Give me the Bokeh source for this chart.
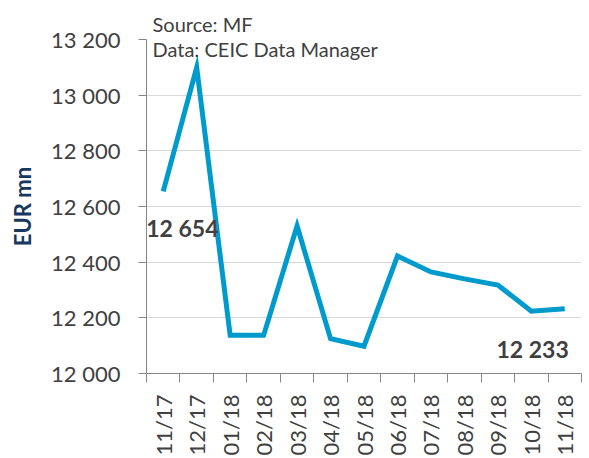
from bokeh.plotting import figure
from bokeh.models import FixedTicker, Range1d, Label, ColumnDataSource, Title
from bokeh.embed import file_html
from bokeh.resources import INLINE
import math

# ---- data ----
categories = ["11/17", "12/17", "01/18", "02/18", "03/18", "04/18", "05/18",
              "06/18", "07/18", "08/18", "09/18", "10/18", "11/18"]
values = [12654, 13100, 12137, 12137, 12530, 12125, 12098,
          12422, 12365, 12340, 12318, 12224, 12233]
y_ticks = [12000, 12200, 12400, 12600, 12800, 13000, 13200]
y_tick_labels = ["12 000", "12 200", "12 400", "12 600", "12 800", "13 000", "13 200"]
first_label = "12 654"
last_label = "12 233"
source_lines = ["Source: MF", "Data: CEIC Data Manager"]
y_title = "EUR mn"

FONT = "Lato"
TXT = "#404040"
AX = "#868686"

xs = list(range(1, len(categories) + 1))
src = ColumnDataSource(dict(x=xs, y=values))

p = figure(width=589, height=458, output_backend="svg", toolbar_location=None,
           x_range=Range1d(0.5, len(categories) + 0.5),
           y_range=Range1d(y_ticks[0], y_ticks[-1]),
           min_border_left=146, min_border_right=8, min_border_top=39, min_border_bottom=83)
p.outline_line_color = None
p.background_fill_color = "white"
p.border_fill_color = "white"

p.line("x", "y", source=src, line_color="#009BCC", line_width=5, line_join="miter")

# x axis
xa = p.xaxis[0]
xa.ticker = FixedTicker(ticks=xs, minor_ticks=[i + 0.5 for i in range(0, len(categories) + 1)])
xa.major_label_overrides = {x: c for x, c in zip(xs, categories)}
xa.major_label_orientation = math.pi / 2
xa.major_tick_out = 0
xa.major_tick_in = 0
xa.minor_tick_in = 0
xa.minor_tick_out = 9
xa.minor_tick_line_color = AX
xa.axis_line_color = AX
xa.major_label_text_font = FONT
xa.major_label_text_font_size = "22px"
xa.major_label_text_color = TXT
xa.major_label_standoff = 12

# y axis
ya = p.yaxis[0]
ya.ticker = FixedTicker(ticks=y_ticks, minor_ticks=[])
ya.major_label_overrides = {t: l for t, l in zip(y_ticks, y_tick_labels)}
ya.major_tick_out = 8
ya.major_tick_in = 0
ya.major_tick_line_color = AX
ya.axis_line_color = AX
ya.major_label_text_font = FONT
ya.major_label_text_font_size = "22px"
ya.major_label_text_color = TXT
ya.major_label_standoff = 18
ya.axis_label = y_title
ya.axis_label_text_font = FONT
ya.axis_label_text_font_size = "22px"
ya.axis_label_text_font_style = "bold"
ya.axis_label_text_color = "#17375E"
ya.axis_label_standoff = 12

p.xgrid.grid_line_color = None
p.ygrid.grid_line_color = "#D9D9D9"
p.ygrid.grid_line_width = 1

# data labels
p.add_layout(Label(x=xs[0], y=values[0], text=first_label, x_offset=-17, y_offset=-37,
                   text_align="left", text_baseline="middle", text_font=FONT,
                   text_font_style="bold", text_font_size="23px", text_color=TXT))
p.add_layout(Label(x=xs[-1], y=values[-1], text=last_label, x_offset=4, y_offset=-40,
                   text_align="right", text_baseline="middle", text_font=FONT,
                   text_font_style="bold", text_font_size="23px", text_color=TXT))

# source notes: first line above the frame, second just inside it
p.add_layout(Title(text=source_lines[0], align="left", offset=6, standoff=8,
                   text_font=FONT, text_font_size="20px", text_font_style="normal",
                   text_color=TXT), "above")
p.add_layout(Label(x=0.5, y=y_ticks[-1], text=source_lines[1], x_offset=6, y_offset=-9,
                   text_align="left", text_baseline="middle", text_font=FONT,
                   text_font_size="20px", text_color=TXT))

open("out.html", "w").write(file_html(p, INLINE))
